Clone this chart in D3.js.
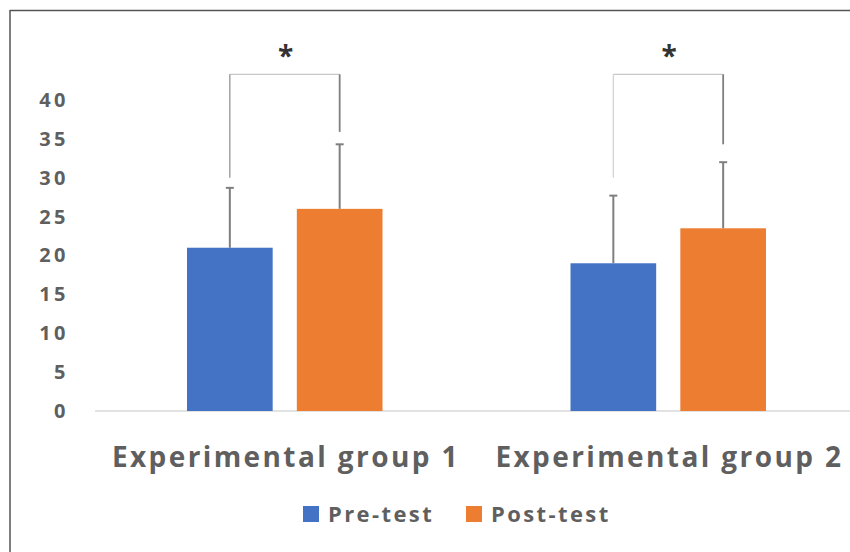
<!DOCTYPE html>
<html>
<head>
<meta charset="utf-8">
<script src="https://cdn.jsdelivr.net/npm/d3@7"></script>
<style>
  body { margin: 0; background: #fff; }
  svg text { font-family: "Open Sans", "Noto Sans", sans-serif; font-weight: bold; fill: #5f5f5f; }
</style>
</head>
<body>
<div id="chart"></div>
<script>
// chart data
var groups = ["Experimental group 1", "Experimental group 2"];
var series = ["Pre-test", "Post-test"];
var means = [[21, 26], [19, 23.5]];
var errTops = [[28.7, 34.3], [27.7, 32]];
// significance brackets: top level, left leg end, right leg end
var bracketTop = [43.3, 43.3];
var bracketLeft = [30, 30];
var bracketRight = [35.9, 34.3];
var yTicks = [0, 5, 10, 15, 20, 25, 30, 35, 40];
var colors = ["#4472C4", "#ED7D31"];

var width = 850, height = 552;
var svg = d3.select("#chart").append("svg")
    .attr("width", width)
    .attr("height", height);

// frame
svg.append("line").attr("x1", 10).attr("x2", width).attr("y1", 10.5).attr("y2", 10.5)
    .attr("stroke", "#555").attr("stroke-width", 1.5);
svg.append("line").attr("x1", 10).attr("x2", 10).attr("y1", 10).attr("y2", height)
    .attr("stroke", "#555").attr("stroke-width", 1.5);

var x = d3.scaleBand()
    .domain(groups)
    .range([93, 860]);

var xs = d3.scaleBand()
    .domain(series)
    .range([94, x.bandwidth() - 94])
    .paddingInner(0.22);

var y = d3.scaleLinear()
    .domain([0, 40])
    .range([411, 100]);

// y tick labels
var yAxis = d3.axisLeft(y).tickValues(yTicks).tickSize(0).tickPadding(0);
var gY = svg.append("g")
    .attr("transform", "translate(69,0)")
    .call(yAxis);
gY.select(".domain").remove();
gY.selectAll("text")
    .style("font-size", "20px")
    .style("letter-spacing", "3.5px")
    .attr("fill", "#5f5f5f");

// baseline
svg.append("line")
    .attr("x1", 95).attr("x2", width)
    .attr("y1", y(0)).attr("y2", y(0))
    .attr("stroke", "#d9d9d9").attr("stroke-width", 1.5);

var g = svg.selectAll(".grp")
    .data(groups)
    .enter().append("g")
    .attr("class", "grp")
    .attr("transform", function (d) { return "translate(" + x(d) + ",0)"; });

// error bars (behind bars)
g.each(function (d, i) {
    var sel = d3.select(this);
    series.forEach(function (s, j) {
        var cx = xs(s) + xs.bandwidth() / 2;
        sel.append("line")
            .attr("x1", cx).attr("x2", cx)
            .attr("y1", y(means[i][j])).attr("y2", y(errTops[i][j]))
            .attr("stroke", "#7f7f7f").attr("stroke-width", 2);
        sel.append("line")
            .attr("x1", cx - 4).attr("x2", cx + 4)
            .attr("y1", y(errTops[i][j])).attr("y2", y(errTops[i][j]))
            .attr("stroke", "#7f7f7f").attr("stroke-width", 2);
    });
});

g.selectAll("rect")
    .data(function (d, i) { return means[i].map(function (v, j) { return {s: series[j], v: v, j: j}; }); })
    .enter().append("rect")
    .attr("x", function (d) { return xs(d.s); })
    .attr("y", function (d) { return y(d.v); })
    .attr("width", xs.bandwidth())
    .attr("height", function (d) { return y(0) - y(d.v); })
    .attr("fill", function (d) { return colors[d.j]; });

// significance brackets
g.each(function (d, i) {
    var sel = d3.select(this);
    var lx = xs(series[0]) + xs.bandwidth() / 2;
    var rx = xs(series[1]) + xs.bandwidth() / 2;
    var leftCol = i === 0 ? "#8c8c8c" : "#d0d0d0";
    sel.append("line")
        .attr("x1", lx).attr("x2", rx)
        .attr("y1", y(bracketTop[i])).attr("y2", y(bracketTop[i]))
        .attr("stroke", "#c8c8c8").attr("stroke-width", 1.2);
    sel.append("line")
        .attr("x1", lx).attr("x2", lx)
        .attr("y1", y(bracketTop[i])).attr("y2", y(bracketLeft[i]))
        .attr("stroke", leftCol).attr("stroke-width", 1.2);
    sel.append("line")
        .attr("x1", rx).attr("x2", rx)
        .attr("y1", y(bracketTop[i])).attr("y2", y(bracketRight[i]))
        .attr("stroke", "#7f7f7f").attr("stroke-width", 1.8);
    sel.append("text")
        .attr("x", (lx + rx) / 2 + 1)
        .attr("y", y(bracketTop[i]) - 8)
        .attr("text-anchor", "middle")
        .style("font-size", "28px")
        .style("fill", "#333")
        .text("*");
});

// category labels
svg.selectAll(".xlab")
    .data(groups)
    .enter().append("text")
    .attr("class", "xlab")
    .attr("x", function (d) { return x(d) + x.bandwidth() / 2 + 1.2; })
    .attr("y", 467)
    .attr("text-anchor", "middle")
    .style("font-size", "28px")
    .style("letter-spacing", "2.4px")
    .text(function (d) { return d; });

// legend
var legX = [303, 466];
var leg = svg.selectAll(".leg")
    .data(series)
    .enter().append("g")
    .attr("class", "leg")
    .attr("transform", function (d, i) { return "translate(" + legX[i] + ",506)"; });
leg.append("rect")
    .attr("width", 16).attr("height", 16)
    .attr("fill", function (d, i) { return colors[i]; });
leg.append("text")
    .attr("x", 25).attr("y", 16)
    .style("font-size", "22px")
    .style("letter-spacing", "2.4px")
    .text(function (d) { return d; });
</script>
</body>
</html>
